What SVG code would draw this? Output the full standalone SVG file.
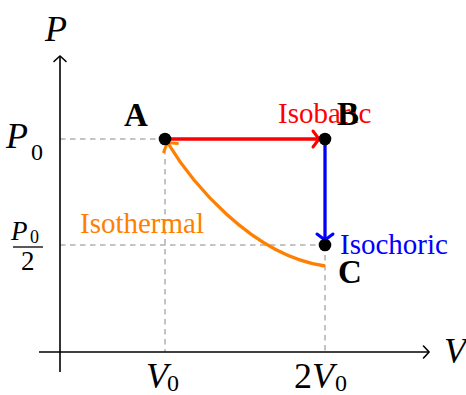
<svg xmlns="http://www.w3.org/2000/svg" width="466" height="395" viewBox="0 0 466 395">
<style>
.guide{stroke:#888;stroke-width:1;stroke-dasharray:5.5 4.5;fill:none}
.axis{stroke:#000;stroke-width:1.6;fill:none}
.proc{stroke-width:3.3;fill:none}
.dot{fill:#000}
.m{font-family:"Liberation Serif",serif;font-style:italic}
.r{font-family:"Liberation Serif",serif}
.b{font-family:"Liberation Serif",serif;font-weight:bold;fill:#000}
.lbl{font-family:"Liberation Serif",serif;font-size:29px}
</style>
<defs>
<marker id="axarr" markerUnits="userSpaceOnUse" viewBox="-8 -8 10 16" refX="0" refY="0" markerWidth="10" markerHeight="16" orient="auto" overflow="visible">
<path d="M-5.5,-6 Q-1.2,-1.5 0,0 Q-1.2,1.5 -5.5,6" fill="none" stroke="#000" stroke-width="1.6" stroke-linecap="round"/>
</marker>
<marker id="arrR" markerUnits="userSpaceOnUse" viewBox="-8 -10 10 20" refX="0" refY="0" markerWidth="10" markerHeight="20" orient="auto" overflow="visible">
<path d="M-6,-8 Q-1.5,-2 0,0 Q-1.5,2 -6,8" fill="none" stroke="#ff0000" stroke-width="3" stroke-linecap="round"/>
</marker>
<marker id="arrB" markerUnits="userSpaceOnUse" viewBox="-8 -10 10 20" refX="0" refY="0" markerWidth="10" markerHeight="20" orient="auto" overflow="visible">
<path d="M-6,-8 Q-1.5,-2 0,0 Q-1.5,2 -6,8" fill="none" stroke="#0000ff" stroke-width="3" stroke-linecap="round"/>
</marker>
<marker id="arrO" markerUnits="userSpaceOnUse" viewBox="-8 -10 10 20" refX="0" refY="0" markerWidth="10" markerHeight="20" orient="auto" overflow="visible">
<path d="M-6,-8 Q-1.5,-2 0,0 Q-1.5,2 -6,8" fill="none" stroke="#ff8000" stroke-width="3" stroke-linecap="round"/>
</marker>
</defs>
<g id="guides">
<path class="guide" d="M60,139 H165 M60,245 H325 M165,139 V352 M325,245 V352"/>
</g>
<g id="axes">
<path class="axis" d="M60,372 V56" marker-end="url(#axarr)"/>
<path class="axis" d="M39,352 H429" marker-end="url(#axarr)"/>
</g>
<g id="connectors">
<path class="proc" stroke="#ff0000" d="M165,139 H319" marker-end="url(#arrR)"/>
<path class="proc" stroke="#0000ff" d="M325,139 V240" marker-end="url(#arrB)"/>
<path class="proc" stroke="#ff8000" d="M325,266 C250,255 190,180 167.5,142.5" marker-end="url(#arrO)"/>
</g>
<g id="labels">
<text class="lbl" x="278" y="123" fill="#ff0000">Isobaric</text>
<text class="lbl" x="340" y="254" fill="#0000ff">Isochoric</text>
<text class="lbl" x="80" y="233" fill="#ff8000">Isothermal</text>
</g>
<g id="nodeA">
<circle class="dot" cx="165" cy="139" r="6.3"/>
<text class="b" x="124" y="126" font-size="33">A</text>
</g>
<g id="nodeB">
<circle class="dot" cx="325" cy="139" r="6.3"/>
<text class="b" x="337" y="125" font-size="33">B</text>
</g>
<g id="nodeC">
<circle class="dot" cx="325" cy="245" r="6.3"/>
<text class="b" x="338" y="283" font-size="33">C</text>
</g>
<g id="ticks">
<text class="m" x="45" y="41" font-size="36">P</text>
<text class="m" x="6" y="148" font-size="36">P</text>
<text class="r" x="31" y="160" font-size="24">0</text>
<text class="m" x="11" y="240" font-size="27">P</text>
<text class="r" x="30" y="243" font-size="18">0</text>
<path d="M13,247 H43" stroke="#000" stroke-width="1.3"/>
<text class="r" x="21" y="270" font-size="27">2</text>
<text class="m" x="146" y="388" font-size="36">V</text>
<text class="r" x="167" y="391" font-size="24">0</text>
<text class="r" x="294" y="388" font-size="36">2</text>
<text class="m" x="312" y="388" font-size="36">V</text>
<text class="r" x="335" y="391" font-size="24">0</text>
<text class="m" x="444" y="363" font-size="36">V</text>
</g>
</svg>
